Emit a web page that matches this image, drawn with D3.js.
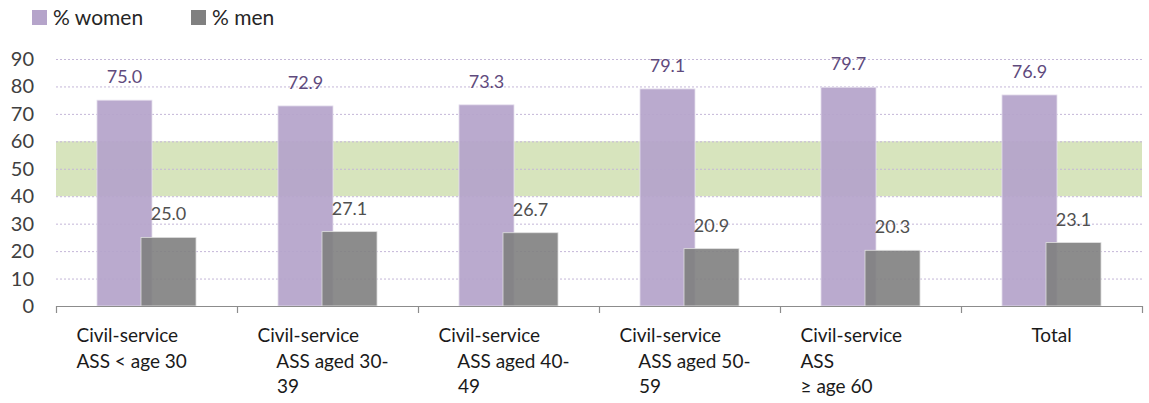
<!DOCTYPE html>
<html><head><meta charset="utf-8">
<script src="https://cdn.jsdelivr.net/npm/d3@7"></script>
<style>body{margin:0;background:#fff}svg{display:block}text{font-family:Lato,"Open Sans",sans-serif}</style>
</head><body>
<svg id="c" width="1149" height="403"></svg>
<script>
const categories = ["cat1","cat2","cat3","cat4","cat5","cat6"];
const categoryLines = [
  ["Civil-service","ASS < age 30"],
  ["Civil-service","    ASS aged 30-","    39"],
  ["Civil-service","    ASS aged 40-","    49"],
  ["Civil-service","    ASS aged 50-","    59"],
  ["Civil-service","ASS","\u2265 age 60"],
  ["Total"]
];
const women = [75.0, 72.9, 73.3, 79.1, 79.7, 76.9];
const men = [25.0, 27.1, 26.7, 20.9, 20.3, 23.1];
const yTicks = [0,10,20,30,40,50,60,70,80,90];
const gridTicks = [10,20,30,40,50,60,70,80,90];
const parityBand = [40, 60];
const seriesNames = ["% women","% men"];

const svg = d3.select("#c");
const L = 56, R = 1142, T = 59, B = 306;
const x = d3.scaleBand().domain(categories).range([L, R]).padding(0);
const y = d3.scaleLinear().domain([0, 90]).range([B, T]);
const barW = x.bandwidth() * 0.304;
const overlap = barW * 0.2;

// band
svg.append("rect").attr("x", L).attr("width", R - L)
  .attr("y", y(parityBand[1])).attr("height", y(parityBand[0]) - y(parityBand[1]))
  .attr("fill", "#d7e4bd");

// gridlines
svg.append("g").selectAll("line").data(gridTicks).join("line")
  .attr("x1", L).attr("x2", R).attr("y1", d => y(d) + 0.5).attr("y2", d => y(d) + 0.5)
  .attr("stroke", "#c4b7d8").attr("stroke-width", 1).attr("stroke-dasharray", "2,2");

// y tick labels
svg.append("g").selectAll("text").data(yTicks).join("text")
  .attr("x", 34).attr("y", d => y(d)).attr("dy", "0.35em")
  .attr("text-anchor", "end").attr("font-size", 20).attr("fill", "#404040")
  .text(d => d);

const cx = d => x(d) + x.bandwidth() / 2;
const wx = d => cx(d) - barW + overlap / 2;
const mx = d => cx(d) - overlap / 2;

// women bars
svg.append("g").selectAll("rect").data(categories).join("rect")
  .attr("x", d => wx(d)).attr("width", barW)
  .attr("y", (d, i) => y(women[i])).attr("height", (d, i) => B - y(women[i]))
  .attr("fill", "#b5a4ca").attr("fill-opacity", 0.93)
  .attr("stroke", "#e6e0ee").attr("stroke-width", 0.8);

// men bars
svg.append("g").selectAll("rect").data(categories).join("rect")
  .attr("x", d => mx(d)).attr("width", barW)
  .attr("y", (d, i) => y(men[i])).attr("height", (d, i) => B - y(men[i]))
  .attr("fill", "#808080").attr("fill-opacity", 0.9)
  .attr("stroke", "#e0e0e0").attr("stroke-width", 0.8);

// value labels
svg.append("g").selectAll("text").data(categories).join("text")
  .attr("x", d => wx(d) + barW / 2).attr("y", (d, i) => y(women[i]) - 17)
  .attr("text-anchor", "middle").attr("font-size", 18).attr("fill", "#5f4a7d")
  .text((d, i) => women[i].toFixed(1));
svg.append("g").selectAll("text").data(categories).join("text")
  .attr("x", d => mx(d) + barW / 2).attr("y", (d, i) => y(men[i]) - 17)
  .attr("text-anchor", "middle").attr("font-size", 18).attr("fill", "#505050")
  .text((d, i) => men[i].toFixed(1));

// x axis
const xAxis = svg.append("g");
xAxis.append("line").attr("x1", L).attr("x2", R).attr("y1", B + 0.5).attr("y2", B + 0.5)
  .attr("stroke", "#8c8c8c").attr("stroke-width", 1.2);
const bounds = categories.map(d => x(d)).concat([R]);
xAxis.selectAll("line.t").data(bounds).join("line").attr("class", "t")
  .attr("x1", d => d + 0.5).attr("x2", d => d + 0.5).attr("y1", B).attr("y2", B + 7)
  .attr("stroke", "#8c8c8c").attr("stroke-width", 1.2);

// category labels
categories.forEach((c, i) => {
  const lines = categoryLines[i];
  const single = lines.length === 1;
  const t = svg.append("text")
    .attr("font-size", 19).attr("fill", "#1a1a1a")
    .attr("text-anchor", single ? "middle" : "start")
    .attr("xml:space", "preserve").style("white-space", "pre");
  lines.forEach((ln, k) => {
    t.append("tspan").attr("x", single ? cx(c) : cx(c) - 70).attr("y", 342 + k * 25.5).text(ln);
  });
});

// legend
const legend = svg.append("g");
const legItems = [{n: seriesNames[0], c: "#b5a4ca", x: 32}, {n: seriesNames[1], c: "#808080", x: 191}];
legItems.forEach(it => {
  legend.append("rect").attr("x", it.x).attr("y", 10).attr("width", 15).attr("height", 15).attr("fill", it.c);
  legend.append("text").attr("x", it.x + 21).attr("y", 18).attr("dy", "0.35em")
    .attr("font-size", 21).attr("fill", "#262626").text(it.n);
});
</script>
</body></html>
